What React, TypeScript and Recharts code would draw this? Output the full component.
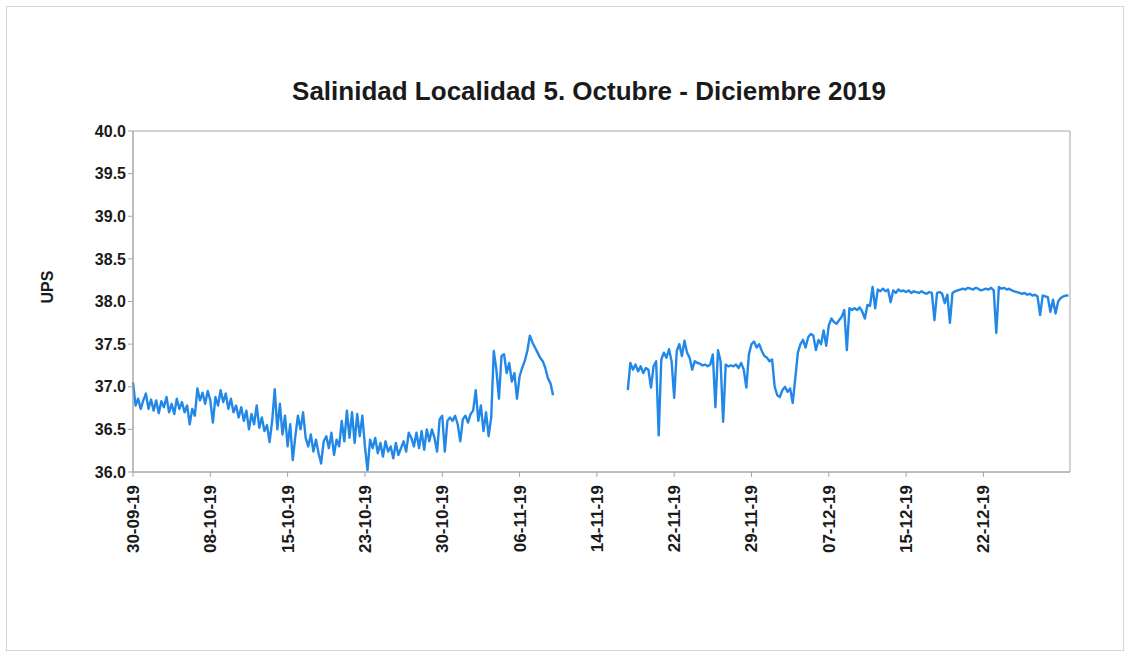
import React from "react";
import { LineChart, Line, XAxis, YAxis, ReferenceArea } from "recharts";

// lecturas cada 6 h (0.25 día), desde el 30-09-19
const STEP = 0.25;

// tramo 1: 30-09 → ~09-11
const tramoOctubre = [
  37.05, 36.78, 36.86, 36.74,
  36.84, 36.92, 36.74, 36.85,
  36.72, 36.84, 36.69, 36.83,
  36.76, 36.88, 36.70, 36.80,
  36.68, 36.86, 36.74, 36.82,
  36.70, 36.78, 36.56, 36.74,
  36.66, 36.98, 36.84, 36.93,
  36.80, 36.95, 36.84, 36.58,
  36.88, 36.78, 36.96, 36.82,
  36.92, 36.74, 36.86, 36.70,
  36.78, 36.64, 36.76, 36.60,
  36.72, 36.50, 36.68, 36.56,
  36.78, 36.52, 36.64, 36.48,
  36.55, 36.35, 36.60, 36.97,
  36.50, 36.80, 36.44, 36.66,
  36.30, 36.56, 36.14, 36.42,
  36.66, 36.50, 36.70, 36.40,
  36.30, 36.44, 36.24, 36.38,
  36.22, 36.10, 36.36, 36.42,
  36.28, 36.46, 36.20, 36.38,
  36.30, 36.60, 36.36, 36.72,
  36.40, 36.70, 36.34, 36.68,
  36.42, 36.66, 36.30, 36.02,
  36.38, 36.28, 36.40, 36.22,
  36.34, 36.18, 36.36, 36.24,
  36.30, 36.16, 36.34, 36.20,
  36.28, 36.36, 36.24, 36.46,
  36.40, 36.30, 36.46, 36.28,
  36.48, 36.26, 36.50, 36.36,
  36.50, 36.40, 36.24, 36.62,
  36.66, 36.24, 36.60, 36.64,
  36.60, 36.66, 36.56, 36.36,
  36.62, 36.66, 36.58, 36.68,
  36.72, 36.96, 36.60, 36.78,
  36.48, 36.70, 36.42, 36.64,
  37.42, 37.20, 36.86, 37.36,
  37.38, 37.16, 37.28, 37.06,
  37.16, 36.86, 37.12, 37.22,
  37.30, 37.42, 37.60, 37.52,
  37.46, 37.40, 37.34, 37.30,
  37.22, 37.10, 37.04, 36.90,
];

// tramo 2: ~18-11 → fin de diciembre (empieza en el día 48)
const INICIO_TRAMO_2 = 48;
const tramoNovDic = [
  36.96, 37.28, 37.20, 37.26,
  37.18, 37.24, 37.16, 37.22,
  37.20, 36.99, 37.24, 37.30,
  36.43, 37.32, 37.40, 37.34,
  37.44, 37.30, 36.87, 37.42,
  37.50, 37.36, 37.54, 37.40,
  37.34, 37.20, 37.30, 37.28,
  37.27, 37.25, 37.26, 37.24,
  37.26, 37.38, 36.76, 37.43,
  37.30, 36.59, 37.26, 37.24,
  37.25, 37.24, 37.26, 37.22,
  37.28, 37.20, 36.99, 37.38,
  37.50, 37.53, 37.46, 37.50,
  37.42, 37.36, 37.34, 37.30,
  37.32, 37.00, 36.90, 36.88,
  36.96, 37.00, 36.94, 36.98,
  36.81, 37.10, 37.40, 37.50,
  37.55, 37.46, 37.58, 37.62,
  37.60, 37.43, 37.55, 37.50,
  37.66, 37.48, 37.72, 37.80,
  37.76, 37.74, 37.78, 37.82,
  37.90, 37.43, 37.92, 37.90,
  37.92, 37.90, 37.93, 37.88,
  37.80, 37.96, 37.95, 38.17,
  37.92, 38.14, 38.12, 38.15,
  38.12, 38.14, 37.99, 38.13,
  38.10, 38.14, 38.12, 38.13,
  38.11, 38.13, 38.10, 38.12,
  38.11, 38.10, 38.12, 38.10,
  38.09, 38.11, 38.10, 37.78,
  38.10, 38.11, 38.09, 37.98,
  38.08, 37.75, 38.10, 38.12,
  38.13, 38.14, 38.15, 38.14,
  38.16, 38.15, 38.14, 38.16,
  38.15, 38.13, 38.14, 38.15,
  38.14, 38.16, 38.13, 37.63,
  38.17, 38.15, 38.16, 38.14,
  38.15, 38.13, 38.12, 38.11,
  38.10, 38.09, 38.10, 38.08,
  38.09, 38.07, 38.08, 38.06,
  37.84, 38.07, 38.06, 38.05,
  37.88, 38.02, 37.86, 38.00,
  38.04, 38.06, 38.07, 38.07,
];

const fechas = [
  "30-09-19", "08-10-19", "15-10-19", "23-10-19", "30-10-19", "06-11-19",
  "14-11-19", "22-11-19", "29-11-19", "07-12-19", "15-12-19", "22-12-19",
];
const TICK_EVERY = 7.5; // días entre etiquetas
const X_MAX = 90.9;
const yTicks = [36.0, 36.5, 37.0, 37.5, 38.0, 38.5, 39.0, 39.5, 40.0];

const data = [
  ...tramoOctubre.map((v, i) => ({ day: i * STEP, v })),
  { day: 44, v: null },
  ...tramoNovDic.map((v, i) => ({ day: INICIO_TRAMO_2 + i * STEP, v })),
];

const xTicks = fechas.map((_, i) => i * TICK_EVERY);

const FONT = "'Liberation Sans', Arial, sans-serif";
const AXIS = "#a6a6a6";

function DateTick(props: any) {
  const { x, y, payload } = props;
  const label = fechas[Math.round(payload.value / TICK_EVERY)] ?? "";
  return (
    <text
      transform={`translate(${x + 6},${y + 6}) rotate(-90)`}
      textAnchor="end"
      fontSize={17}
      fontWeight="bold"
      fontFamily={FONT}
      fill="#1a1a1a"
    >
      {label}
    </text>
  );
}

export default function App() {
  return (
    <div
      style={{
        position: "absolute",
        left: 0,
        top: 0,
        width: 1132,
        height: 657,
        background: "#fff",
        fontFamily: FONT,
      }}
    >
      <div
        style={{
          position: "absolute",
          left: 6,
          top: 6,
          width: 1118,
          height: 645,
          border: "1px solid #d4d4d4",
          boxSizing: "border-box",
        }}
      />
      <div
        style={{
          position: "absolute",
          left: 0,
          width: 1178,
          top: 76,
          textAlign: "center",
          fontSize: 26,
          fontWeight: "bold",
          color: "#1a1a1a",
        }}
      >
        Salinidad Localidad 5. Octubre - Diciembre 2019
      </div>
      <div
        style={{
          position: "absolute",
          left: 48,
          top: 287,
          transform: "translate(-50%, -50%) rotate(-90deg)",
          fontSize: 16,
          fontWeight: "bold",
          color: "#1a1a1a",
        }}
      >
        UPS
      </div>
      <LineChart
        width={1132}
        height={657}
        data={data}
        margin={{ top: 131, right: 62, bottom: 95, left: 73 }}
        style={{ position: "absolute", left: 0, top: 0 }}
      >
        <XAxis
          dataKey="day"
          type="number"
          domain={[0, X_MAX]}
          ticks={xTicks}
          interval={0}
          height={90}
          stroke={AXIS}
          tickSize={5}
          tick={<DateTick />}
        />
        <YAxis
          domain={[36, 40]}
          ticks={yTicks}
          width={60}
          stroke={AXIS}
          tickSize={5}
          interval={0}
          tickFormatter={(v) => Number(v).toFixed(1)}
          tick={{ fontSize: 16, fontWeight: "bold", fill: "#1a1a1a", fontFamily: FONT }}
        />
        <ReferenceArea
          x1={0}
          x2={X_MAX}
          y1={36}
          y2={40}
          fill="none"
          stroke={AXIS}
          strokeWidth={1}
        />
        <Line
          type="linear"
          dataKey="v"
          stroke="#2288e8"
          strokeWidth={2.4}
          strokeLinejoin="round"
          dot={false}
          connectNulls={false}
          isAnimationActive={false}
        />
      </LineChart>
    </div>
  );
}
